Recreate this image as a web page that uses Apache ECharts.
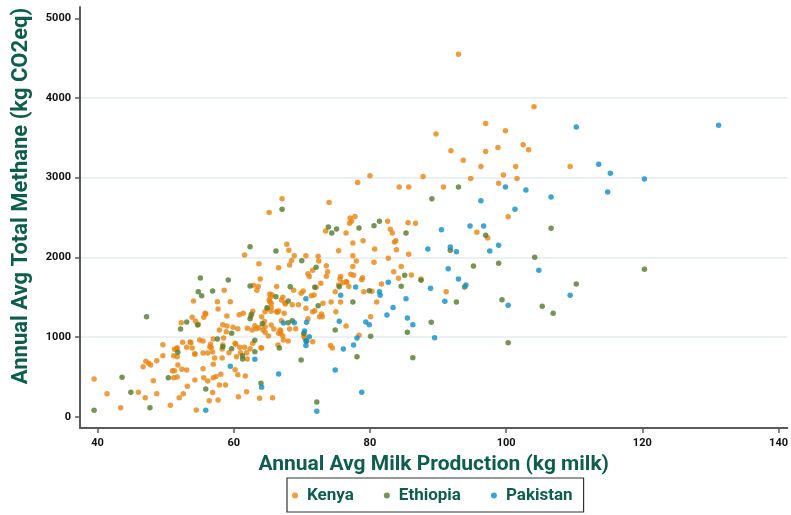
<!DOCTYPE html>
<html>
<head>
<meta charset="utf-8">
<script src="https://cdn.jsdelivr.net/npm/echarts@6/dist/echarts.min.js"></script>
<style>
  html, body { margin: 0; padding: 0; background: #fff; }
  #chart { width: 791px; height: 515px; }
</style>
</head>
<body>
<div id="chart"></div>
<script>
// Annual average milk production (kg) vs annual average total methane (kg CO2eq) per farm
const seriesNames = ['Kenya', 'Ethiopia', 'Pakistan'];
const xTicks = [40, 60, 80, 100, 120, 140];
const yTicks = [0, 1000, 2000, 3000, 4000, 5000];
const xTitle = 'Annual Avg Milk Production (kg milk)';
const yTitle = 'Annual Avg Total Methane (kg CO2eq)';

const kenya = [
  [93.0,4550],[104.1,3890],[89.7,3550],[97.0,3680],[99.9,3590],[91.9,3340],[97.0,3330],[98.8,3380],
  [102.5,3415],[103.3,3350],[93.7,3220],[96.3,3140],[101.4,3140],[109.4,3140],[87.8,3015],[94.8,2990],
  [99.6,3035],[101.6,2990],[90.8,2885],[98.9,2930],[100.3,2510],[95.7,2315],[97.3,2245],[87.5,1730],
  [91.2,1570],
  [80.0,3025],[78.2,2940],[84.3,2885],[85.7,2885],[67.1,2735],[74.0,2690],[77.1,2495],[77.8,2515],
  [77.3,2455],[77.0,2430],[73.5,2330],[76.5,2305],[82.6,2455],[83.0,2355],[83.3,2305],[85.6,2435],
  [86.7,2430],[83.8,2210],[83.6,2195],[67.8,2165],[68.1,2090],[77.5,2180],[79.0,2210],[80.7,2105],
  [83.9,2095],[75.4,2085],[68.9,2020],[68.5,1960],[70.6,2020],[72.4,2015],[72.5,1955],[77.5,2020],
  [78.0,1955],[77.5,1885],[80.6,1940],[82.7,1990],[85.7,2040],[84.6,1885],[83.5,1820],[84.2,1740],
  [86.1,1780],[71.6,1840],[73.6,1895],[73.8,1820],[70.9,1795],[71.1,1760],[73.6,1765],[75.7,1760],
  [75.6,1730],[77.2,1790],[77.6,1775],[78.9,1745],[78.8,1720],[72.8,1675],[81.7,1665],[76.6,1690],
  [76.0,1683],[75.4,1655],[76.9,1635],
  [65.2,2565],[61.6,2030],[63.7,1920],[66.6,1870],[63.9,1730],[66.3,1635],[62.9,1650],[63.6,1635],
  [68.2,1905],[58.6,1588],[63.4,1588],[68.8,1588],[70.2,1580],[65.3,1540],[67.0,1465],[67.6,1415],
  [68.6,1405],[69.5,1405],[54.1,1453],[57.6,1445],[59.5,1445],[57.7,1353],[65.3,1445],[65.5,1375],
  [64.9,1353],[66.6,1328],[66.3,1320],[61.4,1300],[60.8,1280],[62.8,1325],[62.5,1260],[59.0,1265],
  [55.8,1300],[55.6,1250],[53.9,1250],[54.4,1200],[52.3,1180],[63.1,1143],[63.7,1118],[64.5,1195],
  [67.0,1205],[68.2,1102],[69.1,1106],[58.4,1156],[59.0,1140],[59.9,1123],[60.6,1106],[57.9,1089],
  [62.0,1111],[64.6,1131],[65.1,1014],[66.8,1089],[67.2,1014],[70.4,993],[58.9,1068],[62.7,1089],
  [63.3,1106],
  [57.0,977],[55.0,964],[55.5,951],[52.5,935],[51.6,851],[53.1,872],[53.7,930],[54.3,792],
  [55.5,801],[56.2,801],[56.9,813],[56.5,880],[56.6,910],[58.3,851],[58.4,901],[59.3,805],
  [60.3,910],[60.9,872],[61.6,872],[62.4,855],[62.8,922],[64.0,867],[61.9,805],[61.0,805],
  [62.0,725],[60.4,754],[51.2,767],[51.7,754],[56.2,450],[60.2,591],[61.9,315],[66.5,901],[64.1,863],
  [39.5,474],[41.4,290],[43.4,114],[46.0,308],[47.0,240],[46.7,629],[47.1,697],[47.5,671],
  [47.8,650],[48.7,704],[49.6,767],[49.6,905],[48.2,453],[48.7,290],[50.7,144],[51.0,579],
  [51.3,579],[51.7,500],[51.2,491],[51.3,847],[51.7,867],[51.8,650],[52.4,596],[53.1,587],
  [53.2,383],[52.0,240],[52.6,290],[53.6,939],[53.9,863],[54.3,784],[54.3,462],[54.5,85],
  [55.5,604],[55.6,491],[56.7,867],[56.4,202],[56.9,303],[57.0,659],[57.0,491],[57.2,738],
  [57.4,504],[57.7,211],[57.9,399],[58.1,533],[58.3,738],[58.5,990],[58.8,399],[60.2,922],
  [60.6,528],[60.7,252],[61.7,512],[63.8,232],[65.7,240],
  [65.2,1466],[65.5,1424],[65.4,1507],[64.6,1319],[64.1,1256],[64.3,1089],[64.6,1060],[65.5,1152],
  [65.9,1102],[66.6,1048],[55.9,1290],[54.8,1161],
  [74.2,893],[74.5,863],[71.6,943],[67.3,964],[68.0,951],[66.9,1048],[66.9,1077],[70.3,1018],
  [76.5,1140],[78.4,1023],[80.1,1256],[81.0,1441],[79.1,1570],[80.3,1575],[75.7,1441],[74.3,1441],
  [74.9,1570],[76.5,1696],[75.0,1319],[72.6,1256],[72.9,1290],[73.0,1256],[71.6,1319],[71.9,1332],
  [73.1,1424],[71.8,1529],[71.4,1520],[72.1,1625],[69.9,1550],[70.6,1362],[70.9,1231],[67.4,1299],
  [66.4,1311],[67.5,1432],[65.5,1324],[67.2,1500],[65.6,1532]
];

const ethiopia = [
  [93.0,2885],[89.1,2737],[97.0,2278],[106.6,2366],[91.8,2089],[104.2,2002],[95.2,1893],[98.9,1926],
  [87.5,1713],[93.9,1629],[110.3,1667],[92.7,1441],[99.4,1470],[105.3,1387],[89.0,1186],[100.3,930],
  [106.9,1299],[120.3,1851],
  [62.4,2135],[66.2,2081],[55.1,1742],[59.2,1717],[62.4,1642],[54.8,1570],[55.3,1520],[56.9,1579],
  [68.3,1633],[66.2,1507],[68.0,1453],[64.9,1369],[62.6,1286],[62.4,1231],[53.1,1190],[54.7,1152],
  [64.2,1169],[68.6,1206],[59.7,1048],[52.2,1102],[57.6,977],[51.8,809],[58.4,880],[59.7,855],
  [63.1,960],[63.1,817],[61.3,767],[61.3,725],
  [39.5,82],[43.6,496],[44.9,308],[47.2,1256],[47.7,114],[50.4,491],[55.9,349],[64.0,420],
  [72.2,186],[69.9,713],[78.1,754],[86.3,742],[70.7,947],[66.7,863],[70.3,1048],[74.9,1089],
  [80.1,1010],[85.5,1060],[84.6,1638],[79.9,1583],[77.5,1441],[75.5,1633],[72.4,1394],[71.9,1625],
  [68.0,1181],
  [67.1,2604],[73.9,2382],[74.4,2307],[75.1,2357],[78.4,2370],[80.6,2398],[81.4,2454],[85.3,2307],
  [70.0,1959],[72.1,1876],[85.1,1776]
];

const pakistan = [
  [110.3,3637],[113.6,3169],[115.3,3056],[99.9,2884],[102.9,2846],[106.6,2758],[114.9,2821],[96.3,2712],
  [101.3,2604],[94.7,2395],[96.7,2395],[90.5,2348],[88.5,2106],[91.8,2131],[92.7,2072],[97.6,2081],
  [98.9,2152],[91.5,1859],[104.8,1838],[93.0,1729],[88.9,1612],[94.1,1654],[109.4,1525],[91.0,1449],
  [100.3,1399],[89.5,993],[131.2,3658],[120.3,2984],
  [55.9,82],[59.5,634],[64.1,370],[63.1,722],[66.6,537],[72.2,69],[74.9,587],[78.8,308],
  [76.1,851],[77.6,901],[70.6,893],[71.1,1005],[70.4,1077],[75.5,1199],[79.4,1190],[79.9,1156],
  [78.1,989],[85.5,1240],[86.3,1156],[82.5,1278],[83.4,1370],[85.3,1482],[82.7,1688],[81.4,1570],
  [81.5,1525],[77.9,1629],[75.7,1525],[70.6,1482],[70.7,1186],[67.3,1177],[68.9,1181],[70.6,955]
];

const colors = ['#e8840c', '#52792c', '#0b8ec7'];
const titleColor = '#0d5e4e';
const axisColor = '#5a5a5a';
const fontFamily = 'Roboto, sans-serif';

const chart = echarts.init(document.getElementById('chart'), null, { renderer: 'canvas' });

const axisTextStyle = { color: '#111', fontSize: 11, fontWeight: 'bold', fontFamily };

chart.setOption({
  animation: false,
  backgroundColor: '#ffffff',
  color: colors,
  grid: { left: 80, right: 3, top: 7, bottom: 87, containLabel: false },
  xAxis: {
    type: 'value',
    min: 37.43,
    max: 141.3,
    name: xTitle,
    nameLocation: 'middle',
    nameGap: 24,
    nameTextStyle: { color: titleColor, fontSize: 21, fontWeight: 'bold', fontFamily },
    axisLine: { show: true, onZero: false, lineStyle: { color: axisColor, width: 2 } },
    axisTick: { show: true, length: 5, customValues: xTicks, lineStyle: { color: axisColor, width: 1.5 } },
    axisLabel: { customValues: xTicks, margin: 10, ...axisTextStyle },
    splitLine: { show: false }
  },
  yAxis: {
    type: 'value',
    min: -141,
    max: 5143,
    axisLine: { show: true, onZero: false, lineStyle: { color: axisColor, width: 2 } },
    axisTick: { show: true, length: 5, customValues: yTicks, lineStyle: { color: axisColor, width: 1.5 } },
    axisLabel: { customValues: yTicks, margin: 9, formatter: (v) => String(v), ...axisTextStyle },
    splitLine: { show: true, showMinLine: false, showMaxLine: false, lineStyle: { color: '#e9f1f2', width: 2 } }
  },
  graphic: [{
    type: 'text',
    x: 21,
    y: 196,
    rotation: Math.PI / 2,
    style: {
      text: yTitle,
      fill: titleColor,
      font: 'bold 22px ' + fontFamily,
      align: 'center',
      verticalAlign: 'middle'
    }
  }],
  legend: {
    data: seriesNames,
    left: 287,
    top: 478,
    orient: 'horizontal',
    icon: 'circle',
    itemWidth: 6,
    itemHeight: 6,
    itemGap: 30,
    padding: [9, 11, 8, 5],
    borderColor: '#333',
    borderWidth: 1.2,
    textStyle: { color: titleColor, fontSize: 17, fontWeight: 'bold', fontFamily, padding: [0, 0, 0, 4] }
  },
  series: [
    { name: 'Kenya', type: 'scatter', data: kenya, symbolSize: 5.5, z: 2 },
    { name: 'Ethiopia', type: 'scatter', data: ethiopia, symbolSize: 5.5, z: 3 },
    { name: 'Pakistan', type: 'scatter', data: pakistan, symbolSize: 5.5, z: 4 }
  ]
});
</script>
</body>
</html>
